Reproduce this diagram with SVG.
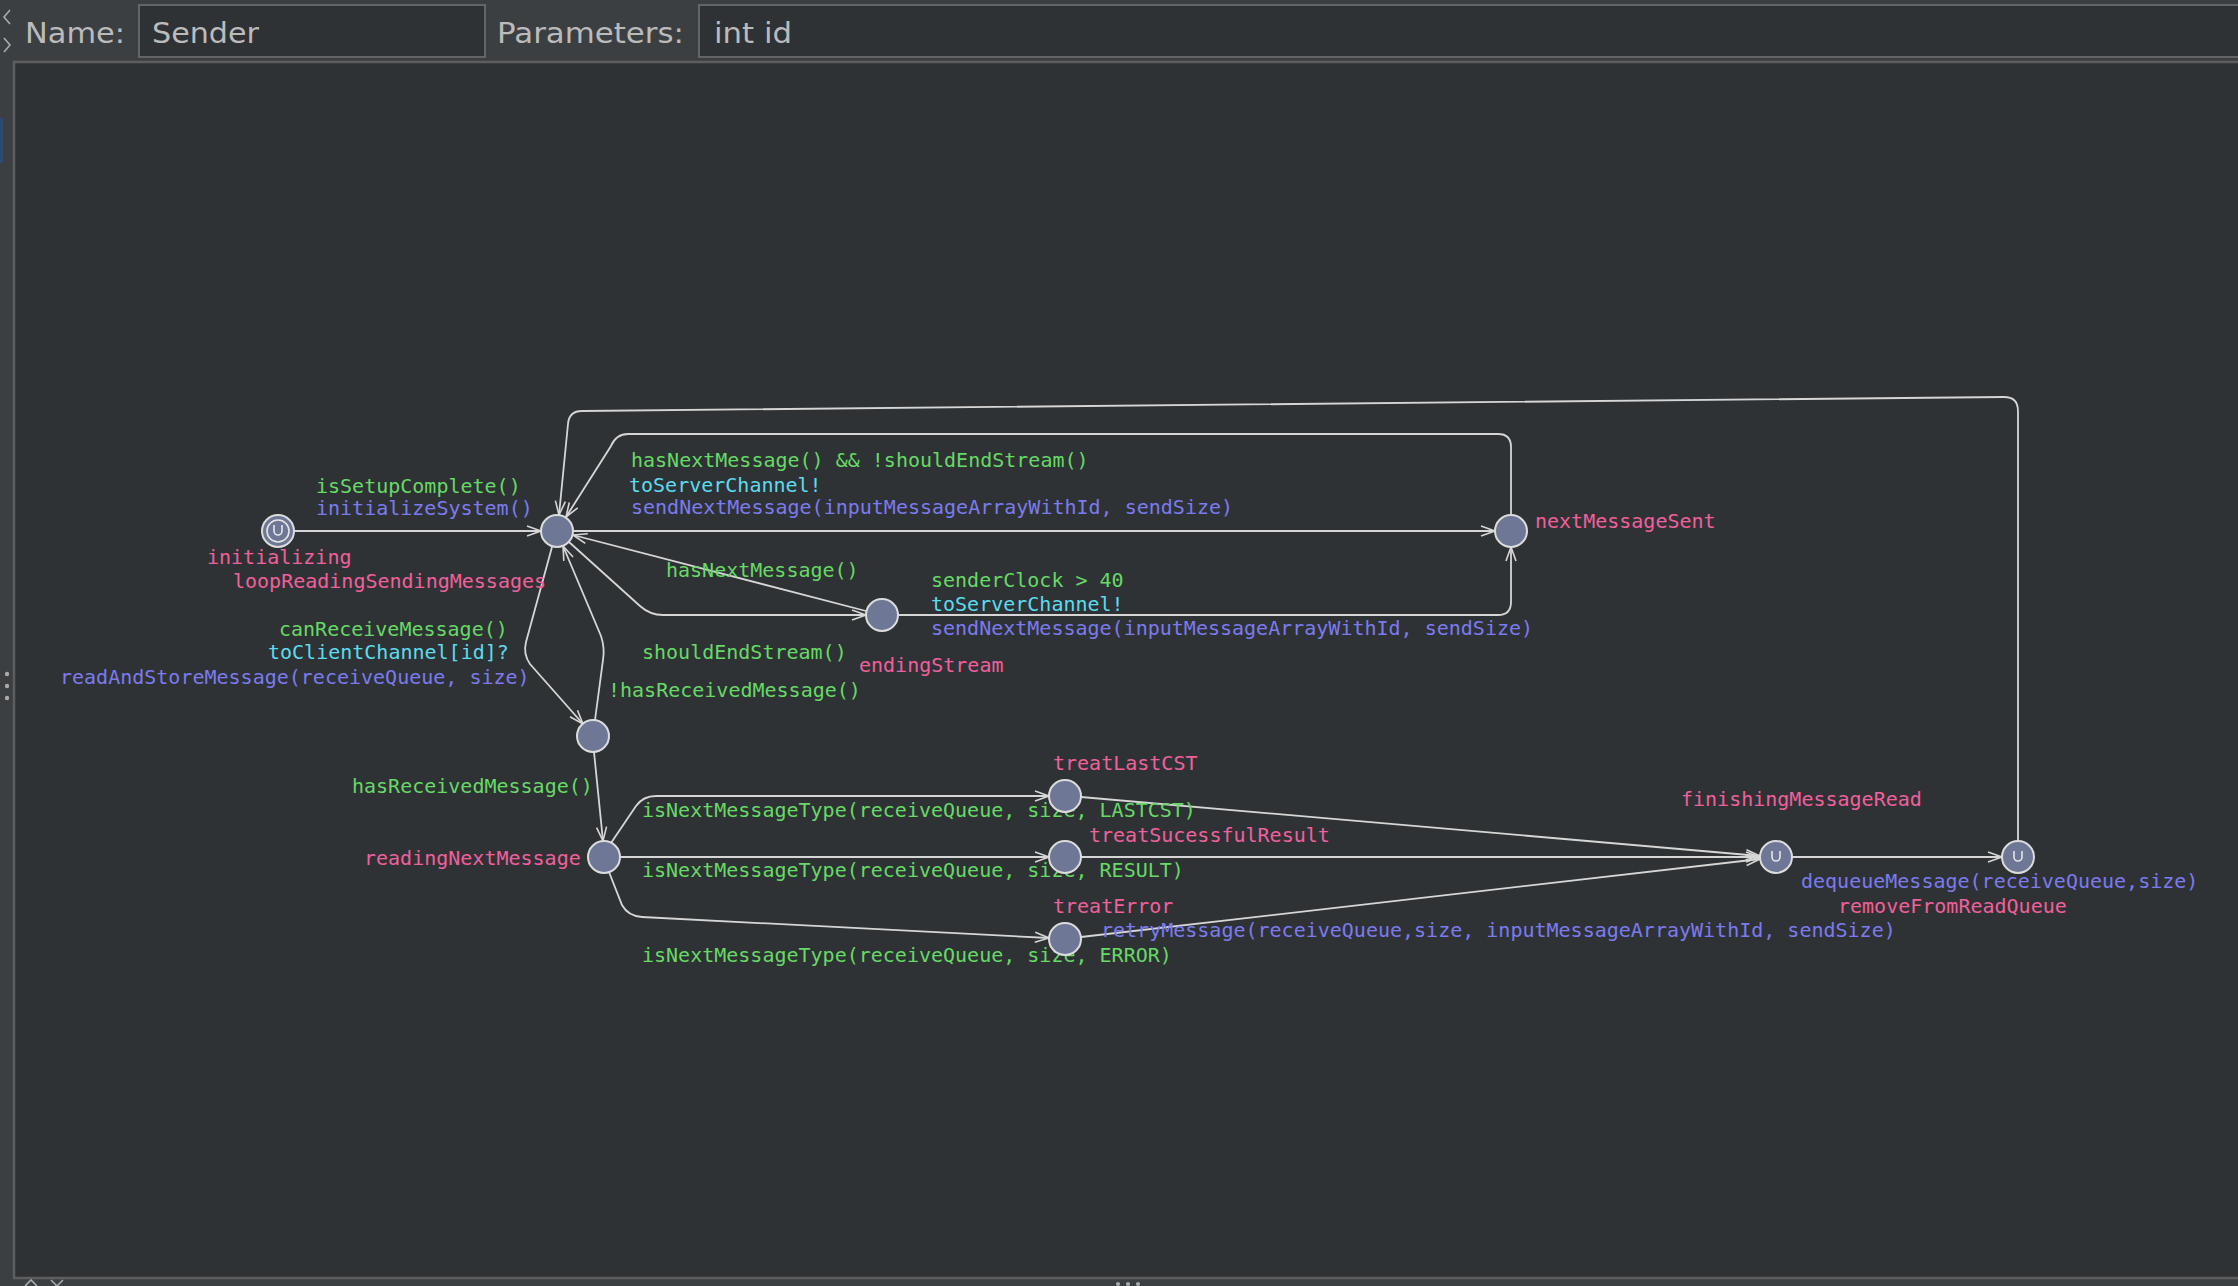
<svg xmlns="http://www.w3.org/2000/svg" width="2238" height="1286" viewBox="0 0 2238 1286">
<defs>
<style>
.hdr{font-family:"DejaVu Sans","Noto Sans",sans-serif;font-size:28px;fill:#bbbbbb}
.field{fill:#2f3234;stroke:#646566;stroke-width:2}
.t{font-family:"DejaVu Sans Mono","Liberation Mono",monospace;font-size:20px}
.g{fill:#66d966}
.s{fill:#5cdcee}
.u{fill:#7b7bef}
.n{fill:#f0609c}
.loc{fill:#6e7896;stroke:#dcdcdc;stroke-width:2}
.sym{fill:none;stroke:#e6e6e6;stroke-width:1.6}
.e{fill:none;stroke:#d6d6d6;stroke-width:1.8;marker-end:url(#arr)}
.ui{fill:none;stroke:#a9abad;stroke-width:1.6}
</style>
<marker id="arr" markerUnits="userSpaceOnUse" viewBox="-16 -8 18 16" refX="0" refY="0" markerWidth="18" markerHeight="16" orient="auto" overflow="visible">
<path d="M-14,-5 L0,0 L-14,5" fill="none" stroke="#d6d6d6" stroke-width="1.6"/>
</marker>
</defs>

<!-- window background -->
<rect x="0" y="0" width="2238" height="1286" fill="#3c3f41"/>
<rect x="0" y="118" width="3" height="45" fill="#2d4b6e"/>
<polyline class="ui" points="10,10 4,17 10,24"/>
<polyline class="ui" points="4,38 10,45 4,52"/>
<circle cx="7" cy="674" r="2.2" fill="#a9abad"/>
<circle cx="7" cy="686" r="2.2" fill="#a9abad"/>
<circle cx="7" cy="698" r="2.2" fill="#a9abad"/>

<!-- header -->
<g id="header">
<text class="hdr" x="25" y="43" textLength="100" lengthAdjust="spacingAndGlyphs">Name:</text>
<rect class="field" x="139" y="5" width="346" height="52"/>
<text class="hdr" x="152" y="43" textLength="107" lengthAdjust="spacingAndGlyphs">Sender</text>
<text class="hdr" x="497" y="43" textLength="187" lengthAdjust="spacingAndGlyphs">Parameters:</text>
<rect class="field" x="699" y="5" width="1545" height="52"/>
<text class="hdr" x="714" y="43" textLength="78" lengthAdjust="spacingAndGlyphs">int id</text>
</g>

<!-- canvas -->
<rect x="14" y="62" width="2230" height="1216" fill="#2f3234" stroke="#5c5e60" stroke-width="2.5"/>
<polyline class="ui" points="25,1286 31,1280 37,1286"/>
<polyline class="ui" points="51,1280 57,1286 63,1280"/>
<circle cx="1118" cy="1284" r="2" fill="#a9abad"/>
<circle cx="1128" cy="1284" r="2" fill="#a9abad"/>
<circle cx="1138" cy="1284" r="2" fill="#a9abad"/>

<!-- connectors -->
<g id="connectors">
<path class="e" d="M294,531 L541,531"/>
<path class="e" d="M573,531 L1495,531"/>
<path class="e" d="M1511,515 L1511,447 Q1511,434 1498,434 L628,434 Q616,434 611,446 L566,517"/>
<path class="e" d="M2018,841 L2018,411 Q2018,397 2004,397 L582,411 Q569,411 568,424 L559,515"/>
<path class="e" d="M866,611 L573,535"/>
<path class="e" d="M569,542 L640,606 Q650,615 663,615 L866,615"/>
<path class="e" d="M898,615 L1498,615 Q1511,615 1511,602 L1511,547"/>
<path class="e" d="M552,547 L526,642 Q523,654 530,664 L583,724"/>
<path class="e" d="M595,720 L603,660 Q605,648 601,636 L563,546"/>
<path class="e" d="M594,752 L603,841"/>
<path class="e" d="M611,843 L636,806 Q643,796 656,796 L1049,796"/>
<path class="e" d="M620,857 L1049,857"/>
<path class="e" d="M609,872 L622,905 Q628,916 642,917 L1049,938"/>
<path class="e" d="M1081,797 L1760,856"/>
<path class="e" d="M1081,857 L1760,857"/>
<path class="e" d="M1081,937 L1760,859"/>
<path class="e" d="M1792,857 L2002,857"/>
</g>

<!-- edge labels -->
<g id="edge-labels" class="t">
<text class="g" x="316" y="493">isSetupComplete()</text>
<text class="u" x="316" y="515">initializeSystem()</text>
<text class="g" x="631" y="467">hasNextMessage() &amp;&amp; !shouldEndStream()</text>
<text class="s" x="629" y="492">toServerChannel!</text>
<text class="u" x="631" y="514">sendNextMessage(inputMessageArrayWithId, sendSize)</text>
<text class="g" x="666" y="577">hasNextMessage()</text>
<text class="g" x="931" y="587">senderClock &gt; 40</text>
<text class="s" x="931" y="611">toServerChannel!</text>
<text class="u" x="931" y="635">sendNextMessage(inputMessageArrayWithId, sendSize)</text>
<text class="g" x="279" y="636">canReceiveMessage()</text>
<text class="s" x="268" y="659">toClientChannel[id]?</text>
<text class="u" x="60" y="684">readAndStoreMessage(receiveQueue, size)</text>
<text class="g" x="642" y="659">shouldEndStream()</text>
<text class="g" x="608" y="697">!hasReceivedMessage()</text>
<text class="g" x="352" y="793">hasReceivedMessage()</text>
<text class="g" x="642" y="817">isNextMessageType(receiveQueue, size, LASTCST)</text>
<text class="g" x="642" y="877">isNextMessageType(receiveQueue, size, RESULT)</text>
<text class="g" x="642" y="962">isNextMessageType(receiveQueue, size, ERROR)</text>
<text class="u" x="1101" y="937">retryMessage(receiveQueue,size, inputMessageArrayWithId, sendSize)</text>
<text class="u" x="1801" y="888">dequeueMessage(receiveQueue,size)</text>
</g>

<!-- locations -->
<g id="initializing">
<circle class="loc" cx="278" cy="531" r="16"/>
<circle class="sym" cx="278" cy="531" r="11"/>
<path class="sym" d="M274,525 L274,531 A4,4 0 0 0 282,531 L282,525"/>
<text class="t n" x="207" y="564">initializing</text>
</g>
<g id="loopReadingSendingMessages">
<circle class="loc" cx="557" cy="531" r="16"/>
<text class="t n" x="233" y="588">loopReadingSendingMessages</text>
</g>
<g id="nextMessageSent">
<circle class="loc" cx="1511" cy="531" r="16"/>
<text class="t n" x="1535" y="528">nextMessageSent</text>
</g>
<g id="endingStream">
<circle class="loc" cx="882" cy="615" r="16"/>
<text class="t n" x="859" y="672">endingStream</text>
</g>
<g id="checkReceived">
<circle class="loc" cx="593" cy="736" r="16"/>
</g>
<g id="readingNextMessage">
<circle class="loc" cx="604" cy="857" r="16"/>
<text class="t n" x="364" y="865">readingNextMessage</text>
</g>
<g id="treatLastCST">
<circle class="loc" cx="1065" cy="796" r="16"/>
<text class="t n" x="1053" y="770">treatLastCST</text>
</g>
<g id="treatSucessfulResult">
<circle class="loc" cx="1065" cy="857" r="16"/>
<text class="t n" x="1089" y="842">treatSucessfulResult</text>
</g>
<g id="treatError">
<circle class="loc" cx="1065" cy="939" r="16"/>
<text class="t n" x="1053" y="913">treatError</text>
</g>
<g id="finishingMessageRead">
<circle class="loc" cx="1776" cy="857" r="16"/>
<path class="sym" d="M1772,851 L1772,857 A4,4 0 0 0 1780,857 L1780,851"/>
<text class="t n" x="1681" y="806">finishingMessageRead</text>
</g>
<g id="removeFromReadQueue">
<circle class="loc" cx="2018" cy="857" r="16"/>
<path class="sym" d="M2014,851 L2014,857 A4,4 0 0 0 2022,857 L2022,851"/>
<text class="t n" x="1838" y="913">removeFromReadQueue</text>
</g>
</svg>
